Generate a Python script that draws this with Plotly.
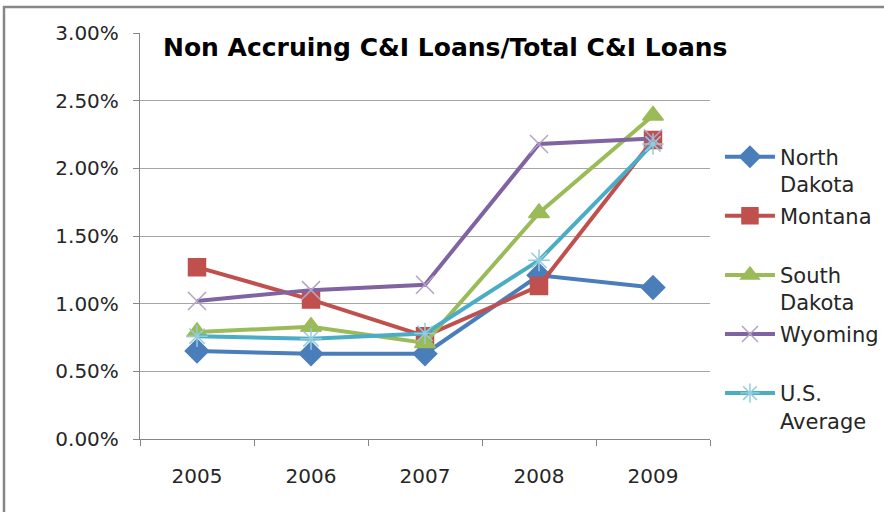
import plotly.graph_objects as go

years = ["2005", "2006", "2007", "2008", "2009"]

# ratios (fractions, shown as percent)
north_dakota = [0.0065, 0.0063, 0.0063, 0.0121, 0.0112]
montana = [0.0127, 0.0103, 0.0076, 0.0113, 0.0221]
south_dakota = [0.0079, 0.0083, 0.0071, 0.0167, 0.0239]
wyoming = [0.0102, 0.0110, 0.0114, 0.0218, 0.0222]
us_average = [0.0076, 0.0074, 0.0078, 0.0132, 0.0218]

series = [
    ("North<br>Dakota", north_dakota, "#4a7ebb", "diamond", "#4a7ebb", 18),
    ("Montana<br> ", montana, "#c0504d", "square", "#c0504d", 17),
    ("South<br>Dakota", south_dakota, "#9bbb59", "triangle-up", "#9bbb59", 18),
    ("Wyoming<br> ", wyoming, "#8064a2", "x-thin-open", "#b3a2c7", 18),
    ("U.S.<br>Average", us_average, "#4bacc6", "asterisk-open", "#93cddd", 18),
]

fig = go.Figure()
for i, (name, vals, col, sym, mcol, msize) in enumerate(series):
    fig.add_trace(go.Scatter(
        x=years, y=vals, name=name, mode="lines+markers",
        legendgroup=str(i),
        line=dict(color=col, width=4),
        marker=dict(symbol=sym, size=msize, color=mcol,
                    line=dict(color=mcol, width=1.5)),
    ))

# outer chart frame (runs off the right and bottom of the picture)
fig.add_shape(type="rect", xref="paper", yref="paper",
              x0=-0.2386, x1=1.5, y0=-0.5, y1=1.064,
              line=dict(color="#878787", width=2.5), layer="below")

fig.update_layout(
    width=884, height=512,
    margin=dict(l=140, r=174, t=33, b=73, autoexpand=False),
    paper_bgcolor="white", plot_bgcolor="white",
    font=dict(family="DejaVu Sans", size=20, color="#262626"),
    title=dict(text="<b>Non Accruing C&I Loans/Total C&I Loans</b>",
               xref="container", x=163 / 884, xanchor="left",
               yref="container", y=1 - 47 / 512, yanchor="middle",
               font=dict(family="DejaVu Sans", size=25, color="black")),
    showlegend=True,
    legend=dict(x=1.0175, xanchor="left", y=0.745, yanchor="top",
                valign="top", tracegroupgap=1.5, itemwidth=50,
                font=dict(size=21, color="#262626"), bgcolor="rgba(0,0,0,0)"),
)
fig.update_xaxes(type="category", range=[-0.5, 4.5],
                 showline=True, linecolor="#868686", linewidth=1.3,
                 ticks="outside", tickson="boundaries", ticklen=6, tickcolor="#868686",
                 ticklabelstandoff=19, showgrid=False)
fig.update_yaxes(range=[0, 0.03], dtick=0.005, tickformat=".2%",
                 showline=True, linecolor="#868686", linewidth=1.3,
                 ticks="outside", ticklen=6, tickcolor="#868686",
                 showgrid=True, gridcolor="#a6a6a6", gridwidth=1.3,
                 ticklabelstandoff=10, zeroline=False)

fig.write_html("out.html", config={"displayModeBar": False},
               post_script="document.body.style.margin='0';")
